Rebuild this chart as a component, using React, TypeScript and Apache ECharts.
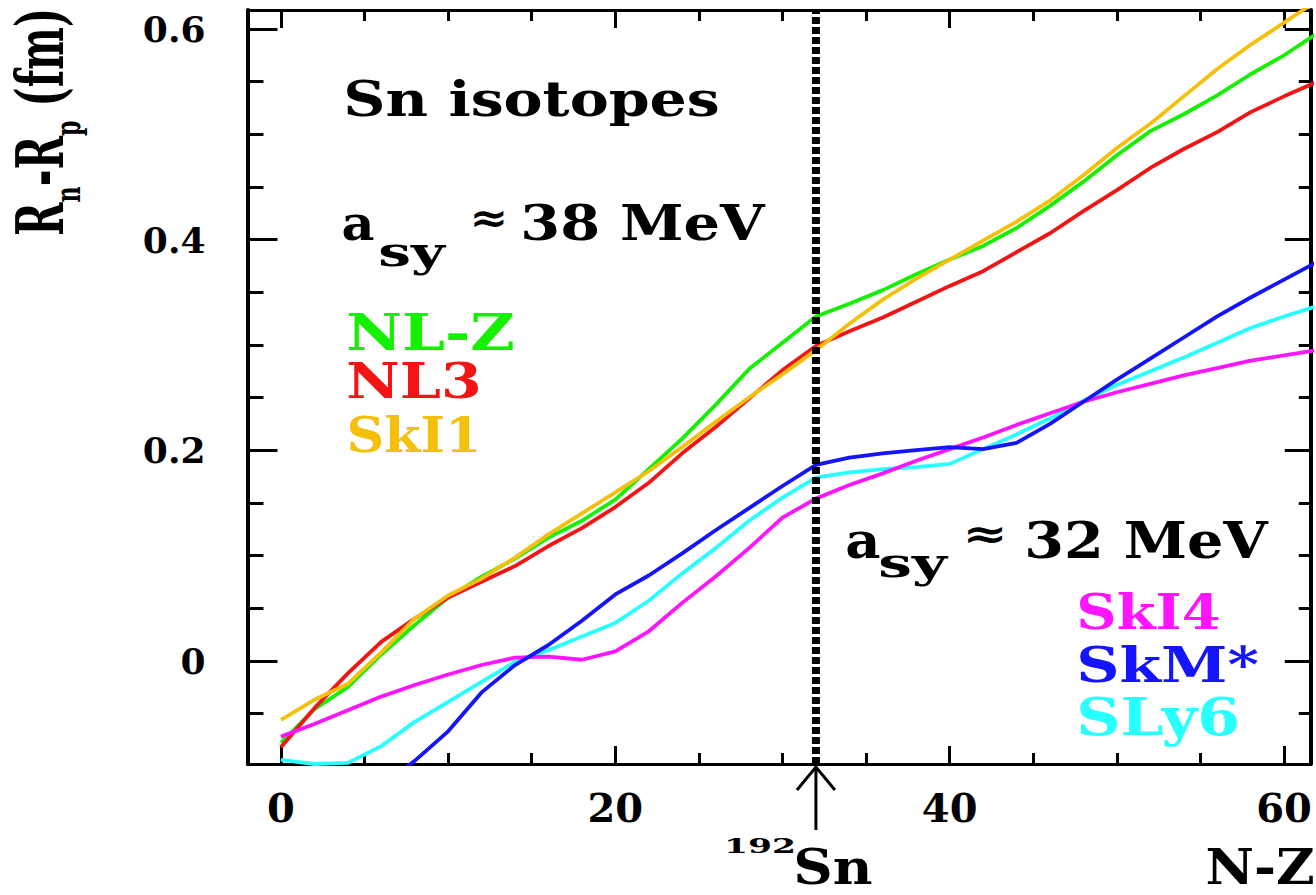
import React, { useEffect, useRef } from 'react';
import * as echarts from 'echarts';

// ---- data (N-Z vs Rn-Rp in fm) ----
const nz = [0, 2, 4, 6, 8, 10, 12, 14, 16, 18, 20, 22, 24, 26, 28, 30, 32, 34, 36, 38, 40, 42, 44, 46, 48, 50, 52, 54, 56, 58, 60, 62];
const nlz = [-0.078, -0.046, -0.025, 0.006, 0.034, 0.060, 0.080, 0.097, 0.117, 0.133, 0.153, 0.182, 0.211, 0.243, 0.277, 0.302, 0.327, 0.339, 0.352, 0.367, 0.381, 0.394, 0.411, 0.432, 0.455, 0.480, 0.503, 0.519, 0.537, 0.557, 0.575, 0.596];
const nl3 = [-0.082, -0.045, -0.012, 0.018, 0.040, 0.060, 0.075, 0.090, 0.109, 0.126, 0.146, 0.169, 0.197, 0.222, 0.249, 0.276, 0.299, 0.313, 0.326, 0.341, 0.356, 0.370, 0.388, 0.406, 0.427, 0.447, 0.468, 0.486, 0.502, 0.521, 0.536, 0.550];
const ski1 = [-0.056, -0.037, -0.022, 0.008, 0.040, 0.062, 0.078, 0.098, 0.120, 0.140, 0.160, 0.180, 0.203, 0.227, 0.250, 0.272, 0.295, 0.320, 0.343, 0.363, 0.381, 0.399, 0.417, 0.437, 0.461, 0.487, 0.510, 0.536, 0.562, 0.585, 0.606, 0.627];
const ski4 = [-0.072, -0.060, -0.047, -0.034, -0.023, -0.013, -0.004, 0.003, 0.004, 0.001, 0.009, 0.028, 0.055, 0.080, 0.107, 0.136, 0.154, 0.167, 0.178, 0.190, 0.201, 0.212, 0.224, 0.235, 0.246, 0.255, 0.263, 0.271, 0.278, 0.285, 0.290, 0.295];
const skm = [-0.195, -0.170, -0.145, -0.120, -0.095, -0.067, -0.030, -0.004, 0.015, 0.038, 0.063, 0.081, 0.102, 0.124, 0.145, 0.166, 0.186, 0.193, 0.197, 0.200, 0.203, 0.201, 0.207, 0.225, 0.246, 0.267, 0.287, 0.307, 0.327, 0.345, 0.362, 0.379];
const sly6 = [-0.094, -0.098, -0.097, -0.081, -0.058, -0.039, -0.020, -0.001, 0.010, 0.023, 0.036, 0.057, 0.083, 0.107, 0.133, 0.155, 0.174, 0.179, 0.182, 0.184, 0.187, 0.201, 0.215, 0.230, 0.247, 0.262, 0.275, 0.288, 0.302, 0.316, 0.327, 0.337];

const xMajorTicks = [0, 20, 40, 60];
const xMinorTicks = [0, 5, 10, 15, 20, 25, 30, 35, 40, 45, 50, 55, 60];
const yMajorTicks = [0, 0.2, 0.4, 0.6];
const yMinorTicks = [-0.05, 0, 0.05, 0.1, 0.15, 0.2, 0.25, 0.3, 0.35, 0.4, 0.45, 0.5, 0.55, 0.6];
const snMarkerNZ = 32;

const X_MIN = -2;
const X_MAX = 61.6;
const Y_MIN = -0.098;
const Y_MAX = 0.618;

const COLORS = {
  nlz: '#14f000',
  nl3: '#f41414',
  ski1: '#f5c00c',
  ski4: '#ff14ff',
  skm: '#1414ff',
  sly6: '#28ffff',
};

const FF = 'DejaVu Serif';

let measureCtx: CanvasRenderingContext2D | null = null;
function textWidth(text: string, fs: number): number {
  if (!measureCtx) measureCtx = document.createElement('canvas').getContext('2d');
  measureCtx!.font = `bold ${fs}px "${FF}"`;
  return measureCtx!.measureText(text).width;
}

// text whose ink starts at `left`, sits on `baseline`, with cap height `cap`, stretched to `width`
function label(text: string, left: number, baseline: number, cap: number, width: number, color = '#000') {
  const fs = cap / 0.729;
  const adv = textWidth(text, fs);
  const ink = adv - 0.06 * fs;
  const sx = width / ink;
  return {
    type: 'text',
    x: left - 0.03 * fs * sx,
    y: baseline - 0.346 * fs,
    scaleX: sx,
    z: 100,
    style: {
      text,
      fontSize: fs,
      fontFamily: FF,
      fontWeight: 'bold',
      fill: color,
      align: 'left',
      verticalAlign: 'middle',
    },
  };
}

function yTitle() {
  const m = 66;
  const s = 36;
  const natural = textWidth('R', m) + textWidth('n', s) + textWidth('-R', m) + textWidth('p', s) + textWidth(' (fm)', m);
  return {
    type: 'text',
    x: 40,
    y: 236,
    rotation: Math.PI / 2,
    scaleX: 228 / natural,
    z: 100,
    style: {
      text: '{m|R}{s|n}{m|-R}{s|p}{m| (fm)}',
      align: 'left',
      verticalAlign: 'middle',
      rich: {
        m: { fontSize: m, fontFamily: FF, fontWeight: 'bold', fill: '#000', color: '#000', verticalAlign: 'middle' },
        s: { fontSize: s, fontFamily: FF, fontWeight: 'bold', fill: '#000', color: '#000', verticalAlign: 'middle', padding: [54, 0, 0, 0] },
      },
    },
  };
}

function xAxisDef(position: 'top' | 'bottom', ticks: number[], len: number, showLine: boolean, showLabel: boolean) {
  return {
    type: 'value',
    min: X_MIN,
    max: X_MAX,
    position,
    axisLine: { show: showLine, onZero: false, lineStyle: { color: '#000', width: 3 } },
    axisTick: { show: true, inside: true, length: len, customValues: ticks, lineStyle: { color: '#000', width: 3 } },
    axisLabel: showLabel
      ? { show: true, customValues: xMajorTicks, fontSize: 40, fontFamily: FF, fontWeight: 'bold', color: '#000', margin: 23 }
      : { show: false },
    splitLine: { show: false },
  };
}

function yAxisDef(position: 'left' | 'right', ticks: number[], len: number, showLine: boolean, showLabel: boolean) {
  return {
    type: 'value',
    min: Y_MIN,
    max: Y_MAX,
    position,
    axisLine: { show: showLine, onZero: false, lineStyle: { color: '#000', width: 4 } },
    axisTick: { show: true, inside: true, length: len, customValues: ticks, lineStyle: { color: '#000', width: 3 } },
    axisLabel: showLabel
      ? {
          show: true,
          customValues: yMajorTicks,
          fontSize: 36,
          fontFamily: FF,
          fontWeight: 'bold',
          color: '#000',
          margin: 42,
          formatter: (v: number) => (Math.abs(v) < 1e-9 ? '0' : v.toFixed(1)),
        }
      : { show: false },
    splitLine: { show: false },
  };
}

function curve(name: string, values: number[], color: string) {
  return {
    name,
    type: 'line',
    xAxisIndex: 0,
    yAxisIndex: 0,
    data: nz.map((x, i) => [x, values[i]]),
    showSymbol: false,
    symbol: 'none',
    clip: true,
    z: 2,
    lineStyle: { color, width: 3.8 },
    itemStyle: { color },
  };
}

export default function App() {
  const ref = useRef<HTMLDivElement>(null);
  useEffect(() => {
    if (!ref.current) return;
    const chart = echarts.init(ref.current, null, { renderer: 'svg' });
    chart.setOption({
      animation: false,
      backgroundColor: '#fff',
      grid: { left: 247.5, right: 5.2, top: 10, bottom: 131, containLabel: false, outerBoundsMode: 'none' },
      xAxis: [
        xAxisDef('bottom', xMinorTicks, 11, true, true),
        xAxisDef('bottom', xMajorTicks, 18, false, false),
        xAxisDef('top', xMinorTicks, 11, true, false),
        xAxisDef('top', xMajorTicks, 18, false, false),
      ],
      yAxis: [
        yAxisDef('left', yMinorTicks, 16, true, true),
        yAxisDef('left', yMajorTicks, 30, false, false),
        yAxisDef('right', yMinorTicks, 12, true, false),
        yAxisDef('right', yMajorTicks, 26, false, false),
      ],
      series: [
        curve('NL-Z', nlz, COLORS.nlz),
        curve('NL3', nl3, COLORS.nl3),
        curve('SkI1', ski1, COLORS.ski1),
        curve('SLy6', sly6, COLORS.sly6),
        curve('SkI4', ski4, COLORS.ski4),
        curve('SkM*', skm, COLORS.skm),
        {
          name: 'marker',
          type: 'line',
          xAxisIndex: 0,
          yAxisIndex: 0,
          data: [[snMarkerNZ, Y_MIN], [snMarkerNZ, Y_MAX]],
          showSymbol: false,
          symbol: 'none',
          z: 5,
          lineStyle: { color: '#000', width: 8, type: [7, 3] },
        },
      ],
    });

    const px = chart.convertToPixel({ xAxisIndex: 0 }, snMarkerNZ) as number;
    const yBottom = chart.convertToPixel({ yAxisIndex: 0 }, Y_MIN) as number;

    chart.setOption({
      graphic: [
        yTitle(),
        label('Sn isotopes', 345, 116, 35, 373),
        label('a', 343, 240, 25 / 0.519 * 0.729, 30),
        label('sy', 380, 266, 21 / 0.519 * 0.729, 63),
        label('\u2248', 471, 232, 30, 36),
        label('38 MeV', 522, 240, 36, 241),
        label('NL-Z', 348, 349, 37, 165, COLORS.nlz),
        label('NL3', 348, 398, 36, 132, COLORS.nl3),
        label('SkI1', 348, 452, 36, 132, COLORS.ski1),
        label('a', 847, 558, 26 / 0.519 * 0.729, 32),
        label('sy', 880, 577, 21 / 0.519 * 0.729, 65),
        label('\u2248', 964, 548, 30, 42),
        label('32 MeV', 1026, 558, 37, 240),
        label('SkI4', 1078, 628, 36, 141, COLORS.ski4),
        label('SkM*', 1078, 682, 36, 179, COLORS.skm),
        label('SLy6', 1078, 735, 38, 160, COLORS.sly6),
        label('N-Z', 1207, 884, 35, 106),
        label('192', 725, 853, 15, 70),
        label('Sn', 795, 884, 35, 76),
        {
          type: 'line',
          z: 100,
          shape: { x1: px, y1: yBottom + 3, x2: px, y2: yBottom + 66 },
          style: { stroke: '#000', lineWidth: 3 },
        },
        {
          type: 'polyline',
          z: 100,
          shape: { points: [[px - 19, yBottom + 26], [px, yBottom + 3], [px + 19, yBottom + 26]] },
          style: { stroke: '#000', lineWidth: 3, fill: null },
        },
      ],
    });
    return () => chart.dispose();
  }, []);
  return (
    <div
      ref={ref}
      style={{ position: 'fixed', left: 0, top: 0, width: 1316, height: 895, background: '#fff' }}
    />
  );
}
